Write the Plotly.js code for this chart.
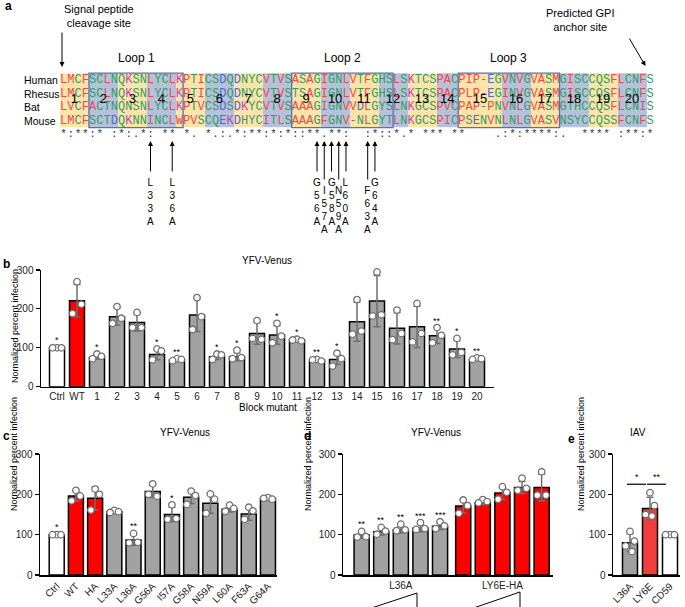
<!DOCTYPE html>
<html><head><meta charset="utf-8">
<script src="https://cdn.plot.ly/plotly-3.0.1.min.js"></script>
<style>html,body{margin:0;padding:0;background:#fff}#chart{width:685px;height:607px}</style>
</head><body><div id="chart"></div>
<script>
// ================= DATA =================
// Panel a: alignment
const species = ['Human','Rhesus','Bat','Mouse'];
const seqHuman  = "LMCFSCLNQKSNLYCLKPTICSDQDNYCVTVSASAGIGNLVTFGHSLSKTCSPACPIP-EGVNVGVASMGISCCQSFLCNFS";
const seqRhesus = "LMCFSCLNQKSNLYCLKPTICSDQDNYCVTVSTSAGIGNLVTFGHSLSKTCSPACPLP-EGINVGVASMGISCCQSFLCNFS";
const seqBat    = "LVCFACTNQNSNLYCLKPTVCSDSDKYCVTVSAAAGIGNVVDLGYSLNKGCSPVCPAP-PNVNLGVASMGTHCCQSFLCNIS";
const seqMouse  = "LMCFSCTDQKNNINCLWPVSCQEKDHYCITLSAAAGFGNV-NLGYTLNKGCSPICPSENVNLNLGVASVNSYCCQSSFCNFS";
const conservation = "*:**:* :*:.*: ** *. *.:.*:**:*:*::**.**:  :*::*.* *** **    .:*:****:.  **** :**:*";
const blockLens = [4,4,4,4,4,4,4,4,4,4,4,4,4,3,6,4,4,4,4,4];
const loopNames = ['Loop 1','Loop 2','Loop 3'];
const loopFirstCol = [5,33,56];
const loopLastCol = [17,46,69];
const mutantLabels = ['L33A','L36A','G56A','I57A','G58A','N59A','L60A','F63A','G64A'];
const mutantCols = [13,16,36,37,38,39,40,43,44];

// Panel b
const bCats = ['Ctrl','WT','1','2','3','4','5','6','7','8','9','10','11','12','13','14','15','16','17','18','19','20'];
const bMean = [100,221,76,180,165,83,69,184,77,77,137,133,120,68,70,167,220,150,154,131,97,70];
const bSD   = [2,42,5,22,22,14,3,42,7,10,28,24,3,3,13,50,66,40,53,20,22,3];
const bPts  = [[100,100,100],[270,212,188],[84,78,72],[206,176,163],[191,152,152],[97,92,69],[72,70,67],
               [229,180,147],[84,82,70],[94,75,72],[170,122,124],[163,130,113],[122,118,120],[70,66,69],
               [86,72,53],[224,143,135],[295,185,182],[197,137,121],[214,137,115],[152,132,113],[124,88,82],[74,72,70]];
const bSig  = ['*','','*','','','*','**','','*','*','','*','*','**','*','','','','','**','*','**'];

// Panel c
const cCats = ['Ctrl','WT','HA','L33A','L36A','G56A','I57A','G58A','N59A','L60A','F63A','G64A'];
const cMean = [100,196,190,157,87,207,150,193,178,163,151,190];
const cSD   = [2,13,28,4,13,15,18,16,25,7,15,4];
const cPts  = [[100,100,100],[210,196,184],[213,200,161],[160,157,155],[103,81,80],[226,195,200],
               [174,140,138],[208,197,175],[201,188,153],[173,165,158],[168,159,138],[192,188,190]];
const cSig  = ['*','','','','**','','*','','','','',''];

// Panel d
const dGroups = ['L36A','LY6E-HA'];
const dMeanL36A = [99,107,112,116,121];
const dSDL36A   = [8,8,8,9,8];
const dPtsL36A  = [[108,95,94],[118,109,101],[126,112,110],[130,115,113],[132,122,115]];
const dSigL36A  = ['**','**','**','***','***'];
const dMeanHA   = [171,179,203,217,217];
const dSDHA     = [17,4,16,15,33];
const dPtsHA    = [[186,172,153],[187,182,179],[219,205,188],[240,215,210],[256,198,198]];

// Panel e
const eCats = ['L36A','LY6E','CD59'];
const eMean = [80,165,100];
const eSD   = [22,28,2];
const ePts  = [[108,84,72,58],[204,172,150,146],[100,100,100]];
const eCompA = [0,1], eCompB = [1,2], eCompSig = ['*','**'];

// ================= LAYOUT HELPERS =================
const W = 685, H = 607;
const FONT = 'Liberation Sans, Arial, sans-serif';
const MONO = 'Liberation Mono, Courier New, monospace';
const px = v => v / W;
const py = v => 1 - v / H;
const COLW = 7.24, COL0 = 60, ROWH = 13.6, ROW0 = 80;
const cOf = p => 0.5 + (p - COL0) / COLW;   // pixel -> alignment column units
const rOf = p => (p - ROW0) / ROWH;         // pixel -> alignment row units

const GRAY = '#a2a2a2', RED = '#ff0000', ERR = '#6e6e6e';
const jitter = [0, 0.22, -0.22, 0.1];

const traces = [], annotations = [], shapes = [];

function resColor(ch){
  if('AVFPMILW'.includes(ch)) return '#ef4a4a';
  if('DE'.includes(ch)) return '#5566cc';
  if('RK'.includes(ch)) return '#c445b8';
  if('STYHCNGQ'.includes(ch)) return '#2f9e5e';
  return '#777';
}

// ================= PANEL A =================
const seqs = [seqHuman, seqRhesus, seqBat, seqMouse];
const nCols = seqHuman.length;
const cols = Array.from({length:nCols}, (_,i)=>i+1);
const blockOfCol = [];
blockLens.forEach((len,k)=>{ for(let j=0;j<len;j++) blockOfCol.push(k); });
const zRow = cols.map((_,i)=> i < blockOfCol.length ? blockOfCol[i] % 2 : null);
traces.push({type:'heatmap', x:cols, y:[0,1,2,3], z:[zRow,zRow,zRow,zRow], zmin:0, zmax:1,
  colorscale:[[0,'#fbe4aa'],[0.5,'#fbe4aa'],[0.5,'#b5c1dc'],[1,'#b5c1dc']],
  showscale:false, hoverinfo:'skip', xaxis:'x', yaxis:'y'});
seqs.forEach((s,r)=>{
  const ch = s.split('');
  traces.push({type:'scatter', mode:'text', x:cols, y:cols.map(()=>r), text:ch,
    textfont:{family:MONO, size:12, color:ch.map(resColor)}, hoverinfo:'skip', xaxis:'x', yaxis:'y', cliponaxis:false});
});
// block numbers
let start = 1; const bx = [], bl = [];
blockLens.forEach((len,k)=>{ bx.push(start + (len-1)/2); bl.push(String(k+1)); start += len; });
traces.push({type:'scatter', mode:'text', x:bx, y:bx.map(()=>1.47), text:bl,
  textfont:{family:FONT, size:13, color:'#000'}, hoverinfo:'skip', xaxis:'x', yaxis:'y', cliponaxis:false});
// conservation
const cons = conservation.split('');
traces.push({type:'scatter', mode:'text', x:cols, y:cols.map(()=>4), text:cons,
  textfont:{family:MONO, size:11, color:'#333'}, hoverinfo:'skip', xaxis:'x', yaxis:'y', cliponaxis:false});
// loops
loopNames.forEach((nm,i)=>{
  shapes.push({type:'rect', xref:'x', yref:'y', x0:loopFirstCol[i]-0.5, x1:loopLastCol[i]+0.5, y0:-0.5, y1:3.5,
    line:{color:'#5572b0', width:1.3}, fillcolor:'rgba(0,0,0,0)'});
  annotations.push({xref:'x', yref:'y', x:(loopFirstCol[i]+loopLastCol[i])/2, y:rOf(58), text:nm, showarrow:false,
    font:{family:FONT, size:12, color:'#000'}});
});
// species labels
species.forEach((sp,r)=> annotations.push({xref:'x', yref:'y', x:cOf(22), y:r, xanchor:'left', text:sp, showarrow:false,
  font:{family:FONT, size:10.5, color:'#000'}}));
// mutant arrows and labels
const staggered = ['I57A','N59A','F63A'];
mutantLabels.forEach((lab,i)=>{
  const st = staggered.includes(lab);
  annotations.push({xref:'x', yref:'y', x:mutantCols[i], y:rOf(141), ax:0, ay: st ? 40 : 32, text:'', showarrow:true,
    arrowhead:2, arrowsize:1, arrowwidth:1, arrowcolor:'#000', standoff:0});
  annotations.push({xref:'x', yref:'y', x:mutantCols[i], y:rOf(st ? 183 : 175), yanchor:'top', text:lab.split('').join('<br>'),
    showarrow:false, font:{family:FONT, size:10, color:'#000'}});
});
// signal peptide & GPI
annotations.push({xref:'paper', yref:'paper', x:px(62), y:py(1), yanchor:'top', text:'Signal peptide<br>cleavage site',
  showarrow:false, font:{family:FONT, size:11, color:'#000'}});
annotations.push({xref:'x', yref:'y', x:cOf(62), y:rOf(67), ax:0, ay:-36, text:'', showarrow:true,
  arrowhead:2, arrowsize:1, arrowwidth:1, arrowcolor:'#000', standoff:0});
annotations.push({xref:'paper', yref:'paper', x:px(616), y:py(5), yanchor:'top', text:'Predicted GPI<br>anchor site',
  showarrow:false, font:{family:FONT, size:11, color:'#000'}});
annotations.push({xref:'x', yref:'y', x:cOf(645.5), y:rOf(66), ax:-17, ay:-29, text:'', showarrow:true,
  arrowhead:2, arrowsize:1, arrowwidth:1, arrowcolor:'#000', standoff:0});

// ================= BAR PANELS =================
function addBars(ax, xs, means, sds, colors, pts, sigs, width){
  const xa = 'x'+ax, ya = 'y'+ax;
  traces.push({type:'bar', x:xs, y:means, width:width, marker:{color:colors, line:{color:'#000', width:1.5}},
    error_y:{type:'data', array:sds, visible:true, color:ERR, thickness:1.5, width:3.5},
    hoverinfo:'skip', xaxis:xa, yaxis:ya});
  const PX=[], PY=[];
  pts.forEach((p,i)=> p.forEach((v,j)=>{ PX.push(xs[i] + jitter[j]); PY.push(v); }));
  traces.push({type:'scatter', mode:'markers', x:PX, y:PY, marker:{symbol:'circle', size:6.5, color:'#fff',
    line:{color:'#707070', width:1.3}}, hoverinfo:'skip', xaxis:xa, yaxis:ya, cliponaxis:false});
  if(sigs) sigs.forEach((s,i)=>{
    if(!s) return;
    const top = Math.max(means[i]+sds[i], ...pts[i]);
    annotations.push({xref:xa, yref:ya, x:xs[i], y:top, yanchor:'bottom', yshift:0, text:s, showarrow:false,
      font:{family:FONT, size:9, color:'#000'}});
  });
}
const idx = n => Array.from({length:n}, (_,i)=>i);

// b
const bX = idx(bCats.length);
addBars(2, bX, bMean, bSD, bCats.map(c=> c==='Ctrl' ? '#fff' : c==='WT' ? RED : GRAY), bPts, bSig, 0.75);
// c
const cX = idx(cCats.length);
addBars(3, cX, cMean, cSD, cCats.map(c=> c==='Ctrl' ? '#fff' : (c==='WT'||c==='HA') ? RED : GRAY), cPts, cSig, 0.78);
// d
const GROUP_GAP = 1.18;
const dXL = idx(dMeanL36A.length);
const dXH = idx(dMeanHA.length).map(i=> i + dMeanL36A.length + GROUP_GAP - 1);
addBars(4, dXL, dMeanL36A, dSDL36A, dXL.map(()=>GRAY), dPtsL36A, dSigL36A, 0.77);
addBars(4, dXH, dMeanHA, dSDHA, dXH.map(()=>RED), dPtsHA, null, 0.77);
// e
const eX = idx(eCats.length);
addBars(5, eX, eMean, eSD, ['#9f9f9f','#f23d3d','#fff'], ePts, null, 0.75);
eCompA.forEach((a,i)=>{
  const b = eCompB[i];
  shapes.push({type:'line', xref:'x5', yref:'y5', x0:a-0.15, x1:b-0.2, y0:225, y1:225, line:{color:'#000', width:1.2}});
  annotations.push({xref:'x5', yref:'y5', x:(a-0.15+b-0.2)/2, y:225, yanchor:'bottom', text:eCompSig[i], showarrow:false,
    font:{family:FONT, size:9, color:'#000'}});
});

// ================= AXES =================
function yAx(top, bottom, x0){
  return {domain:[py(bottom), py(top)], range:[0,300], tickvals:[0,100,200,300], ticks:'outside', ticklen:4, tickwidth:1.2,
    tickcolor:'#000', showline:true, linewidth:1.5, linecolor:'#000', showgrid:false, zeroline:false,
    tickfont:{family:FONT, size:10, color:'#222'}, fixedrange:true, anchor:'x'+x0};
}
function xAx(left, right, range, tickvals, ticktext, angle, yid){
  return {domain:[px(left), px(right)], range:range, tickvals:tickvals, ticktext:ticktext, ticks:'', showline:true,
    linewidth:1.5, linecolor:'#000', showgrid:false, zeroline:false, tickangle:angle,
    tickfont:{family:FONT, size:10, color:'#222'}, fixedrange:true, anchor:'y'+yid};
}

const layout = {
  width:W, height:H, margin:{l:0,r:0,t:0,b:0}, paper_bgcolor:'#fff', plot_bgcolor:'rgba(0,0,0,0)',
  showlegend:false, font:{family:FONT},
  xaxis:{domain:[0,1], range:[cOf(0), cOf(W)], visible:false, fixedrange:true, anchor:'y'},
  yaxis:{domain:[py(240), 1], range:[rOf(240), rOf(0)], visible:false, fixedrange:true, anchor:'x'},
  xaxis2: xAx(41, 494, [-0.8, 21.85], bX, bCats, 0, 2),
  yaxis2: yAx(270, 386.7, 2),
  xaxis3: xAx(40, 277, [-0.87, 11.47], cX, cCats, -45, 3),
  yaxis3: yAx(454, 575, 3),
  xaxis4: xAx(343, 553, [-0.95, 9.76],
    [dXL.reduce((a,b)=>a+b,0)/dXL.length, dXH.reduce((a,b)=>a+b,0)/dXH.length], dGroups, 0, 4),
  yaxis4: yAx(454, 575, 4),
  xaxis5: xAx(613, 680, [-0.85, 2.5], eX, eCats, -45, 5),
  yaxis5: yAx(454, 575, 5),
  shapes: shapes,
  annotations: annotations
};

// panel letters, titles, axis titles
const txt = (x,y,t,opt={}) => annotations.push(Object.assign({xref:'paper', yref:'paper', x:px(x), y:py(y), text:t,
  showarrow:false, font:{family:FONT, size:10, color:'#000'}}, opt));
const LET = {family:FONT,size:12,color:'#000'};
txt(3,0,'<b>a</b>',{xanchor:'left', yanchor:'top', yshift:3, font:LET});
txt(1,255,'<b>b</b>',{xanchor:'left', yanchor:'top', font:LET});
txt(1,427,'<b>c</b>',{xanchor:'left', yanchor:'top', font:LET});
txt(302,427,'<b>d</b>',{xanchor:'left', yanchor:'top', font:LET});
txt(566,430,'<b>e</b>',{xanchor:'left', yanchor:'top', font:LET});
txt(267,260,'YFV-Venus');
txt(158,440,'YFV-Venus');
txt(463,440,'YFV-Venus');
txt(648,440,'IAV');
txt(268,415,'Block mutant');
const yt = 'Normalized percent infection';
txt(8,326,yt,{textangle:-90, font:{family:FONT,size:9,color:'#000'}});
txt(7,513,yt,{textangle:-90, font:{family:FONT,size:9,color:'#000'}});
txt(308,513,yt,{textangle:-90, font:{family:FONT,size:9,color:'#000'}});
txt(588,513,yt,{textangle:-90, font:{family:FONT,size:9,color:'#000'}});

// wedges under panel d
const wedge = (x0,x1,yTop,yBot) => shapes.push({type:'path', xref:'paper', yref:'paper',
  path:`M ${px(x0)} ${py(yBot)} L ${px(x1)} ${py(yTop)} L ${px(x1)} ${py(yBot)} Z`, line:{color:'#000', width:1}, fillcolor:'rgba(0,0,0,0)'});
wedge(373, 417, 593, 607.5);
wedge(475, 520, 592, 607.5);

Plotly.newPlot('chart', traces, layout, {staticPlot:true, displayModeBar:false});
</script>
</body></html>
